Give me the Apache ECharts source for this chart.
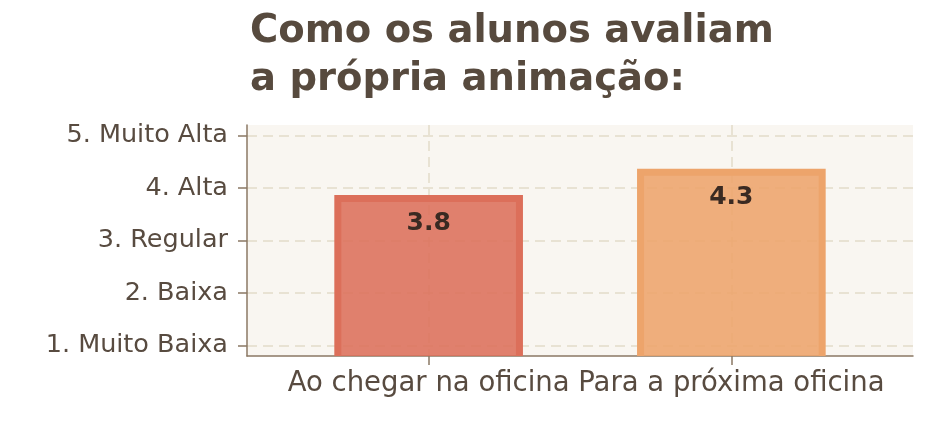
<!DOCTYPE html>
<html>
<head>
<meta charset="utf-8">
<script src="https://cdn.jsdelivr.net/npm/echarts@6/dist/echarts.min.js"></script>
<style>html,body{margin:0;padding:0;background:#fff}#c{width:925px;height:438px}</style>
</head>
<body>
<div id="c"></div>
<script>
const categories = ['Ao chegar na oficina', 'Para a próxima oficina'];
const values = [3.8, 4.3];
const levelValues = [1, 2, 3, 4, 5];
const levelLabels = ['1. Muito Baixa', '2. Baixa', '3. Regular', '4. Alta', '5. Muito Alta'];
const barBorders = ['rgb(220,111,90)', 'rgb(237,164,107)'];
const barFills = ['rgba(220,111,90,0.88)', 'rgba(237,164,107,0.88)'];

const Y_MIN = 0.8, Y_MAX = 5.2;
const chart = echarts.init(document.getElementById('c'));
const axisColor = '#8b7864';
const textColor = '#584b40';
const gridColor = '#e2dbc9';
const idx = categories.map((_, i) => i);

chart.setOption({
  backgroundColor: '#ffffff',
  animation: false,
  title: {
    text: 'Como os alunos avaliam\na própria animação:',
    left: 245, top: 3,
    textStyle: { fontFamily: 'DejaVu Sans', fontWeight: 'bold', fontSize: 38.5, lineHeight: 48, color: '#574a3e' }
  },
  grid: { left: 247, right: 12, top: 125, bottom: 82, show: true, backgroundColor: '#f9f6f1', borderWidth: 0 },
  xAxis: {
    type: 'value', min: -0.6, max: 1.6,
    axisLine: { show: true, onZero: false, lineStyle: { color: axisColor, width: 1.5 } },
    axisTick: { show: true, length: 9, customValues: idx, lineStyle: { color: axisColor, width: 1.5 } },
    axisLabel: { customValues: idx, formatter: v => categories[Math.round(v)], fontFamily: 'DejaVu Sans', fontSize: 27.5, color: textColor, margin: 14 },
    splitLine: { show: true, lineStyle: { color: gridColor, type: [10, 6], width: 1.5 } }
  },
  yAxis: {
    type: 'value', min: Y_MIN, max: Y_MAX,
    axisLine: { show: true, onZero: false, lineStyle: { color: axisColor, width: 1.5 } },
    axisTick: { show: true, length: 9, customValues: levelValues, lineStyle: { color: axisColor, width: 1.5 } },
    axisLabel: { customValues: levelValues, formatter: v => levelLabels[levelValues.indexOf(Math.round(v))], fontFamily: 'DejaVu Sans', fontSize: 25.5, color: textColor, margin: 19 },
    splitLine: { show: true, lineStyle: { color: gridColor, type: [10, 6], width: 1.5 } }
  },
  series: [{
    type: 'custom',
    data: values.map((v, i) => [i, v]),
    renderItem: function (params, api) {
      const i = api.value(0), v = api.value(1);
      const top = api.coord([i, v]);
      const base = api.coord([i, Y_MIN]);
      const w = api.size([0.6, 0])[0];
      const l = top[0] - w / 2, r = top[0] + w / 2;
      return {
        type: 'group',
        children: [
          { type: 'rect', shape: { x: l, y: top[1], width: w, height: base[1] - top[1] }, style: { fill: barFills[i] } },
          { type: 'polyline', shape: { points: [[l, base[1]], [l, top[1]], [r, top[1]], [r, base[1]]] },
            style: { fill: null, stroke: barBorders[i], lineWidth: 7, lineJoin: 'miter', lineCap: 'butt' } },
          { type: 'text', style: { text: v.toFixed(1), x: top[0], y: top[1] + 25, align: 'center', verticalAlign: 'middle',
              font: 'bold 25px "DejaVu Sans"', fill: '#3a2a22' } }
        ]
      };
    }
  }]
});
</script>
</body>
</html>
